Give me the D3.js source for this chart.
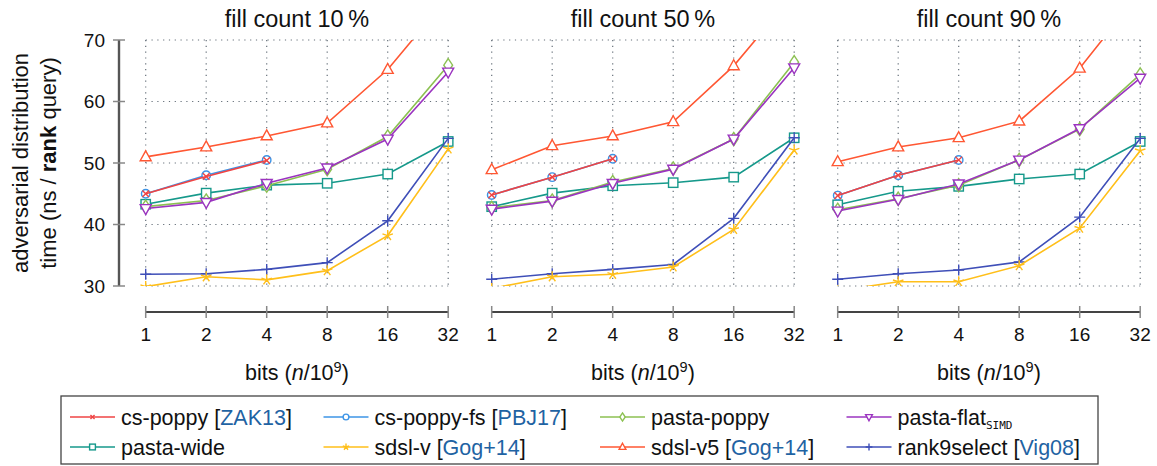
<!DOCTYPE html>
<html>
<head>
<meta charset="utf-8">
<script src="https://cdn.jsdelivr.net/npm/d3@7"></script>
<style>
  body { margin: 0; background: #fff; }
  svg { font-family: "Liberation Sans", Arial, sans-serif; }
</style>
</head>
<body>
<div id="chart"></div>
<script>
// bits (n / 10^9)
const bits = [1, 2, 4, 8, 16, 32];
const panelTitles = ["fill count 10\u2009%", "fill count 50\u2009%", "fill count 90\u2009%"];
const yTicks = [30, 40, 50, 60, 70];

// one row per panel (10 %, 50 %, 90 %)
const csPoppy = [[45.0, 47.8, 50.4], [44.8, 47.7, 50.7], [44.7, 48.0, 50.5]];
const csPoppyFs = [[45.0, 48.0, 50.5], [44.8, 47.7, 50.7], [44.7, 48.0, 50.5]];
const pastaPoppy = [
  [42.9, 43.9, 46.3, 49.0, 54.3, 65.9],
  [42.7, 43.9, 46.9, 49.1, 53.9, 66.4],
  [42.4, 44.2, 46.4, 50.5, 55.5, 64.4]
];
const pastaFlat = [
  [42.6, 43.6, 46.7, 49.2, 53.9, 64.8],
  [42.5, 43.8, 46.7, 49.0, 53.9, 65.5],
  [42.2, 44.1, 46.6, 50.5, 55.6, 63.8]
];
const pastaWide = [
  [43.3, 45.1, 46.4, 46.7, 48.2, 53.5],
  [42.9, 45.1, 46.3, 46.8, 47.7, 54.1],
  [43.2, 45.4, 46.2, 47.4, 48.2, 53.5]
];
const sdslV = [
  [29.9, 31.5, 31.0, 32.5, 38.2, 52.3],
  [29.6, 31.5, 31.9, 33.1, 39.2, 52.1],
  [29.2, 30.7, 30.7, 33.3, 39.4, 52.0]
];
const sdslV5 = [
  [51.0, 52.6, 54.4, 56.5, 65.2, 77.0],
  [48.9, 52.8, 54.4, 56.7, 65.8, 77.5],
  [50.2, 52.6, 54.1, 56.8, 65.4, 77.8]
];
const rank9 = [
  [31.9, 32.0, 32.7, 33.8, 40.6, 54.0],
  [31.1, 32.0, 32.7, 33.5, 41.0, 54.1],
  [31.1, 32.0, 32.6, 33.9, 41.2, 54.0]
];

const series = [
  { key: "pasta-wide", data: pastaWide, color: "#16998b", mark: "square" },
  { key: "rank9select", cite: "Vig08", data: rank9, color: "#3f4fb8", mark: "plus" },
  { key: "sdsl-v", cite: "Gog+14", data: sdslV, color: "#ffbf1a", mark: "star" },
  { key: "pasta-poppy", data: pastaPoppy, color: "#8cc152", mark: "diamond" },
  { key: "pasta-flat", sub: "SIMD", data: pastaFlat, color: "#9b34c0", mark: "tridown" },
  { key: "cs-poppy-fs", cite: "PBJ17", data: csPoppyFs, color: "#3d94e6", mark: "circle" },
  { key: "cs-poppy", cite: "ZAK13", data: csPoppy, color: "#ef4444", mark: "cross" },
  { key: "sdsl-v5", cite: "Gog+14", data: sdslV5, color: "#ff5733", mark: "triangle" }
];
const legendOrder = ["cs-poppy", "cs-poppy-fs", "pasta-poppy", "pasta-flat",
                     "pasta-wide", "sdsl-v", "sdsl-v5", "rank9select"];

const width = 1157, height = 466;
const plotTop = 40, plotBottom = 286, plotW = 302.5;
const panelLeft = [145.7, 491.7, 837.7];
const xAxisY = 312;

const svg = d3.select("#chart").append("svg")
  .attr("width", width).attr("height", height);

svg.append("defs").append("clipPath").attr("id", "plotclip")
  .append("rect").attr("x", -30).attr("y", 0)
  .attr("width", plotW + 60).attr("height", plotBottom - plotTop);

const x = d3.scaleLog().base(2).domain([1, 32]).range([0, plotW]);
const y = d3.scaleLinear().domain([30, 70]).range([plotBottom - plotTop, 0]);

// marker drawing
function drawMark(g, type, color, s) {
  const sw = 1.4;
  if (type === "circle") {
    g.append("circle").attr("r", s * 0.85).attr("fill", "#fff").attr("stroke", color).attr("stroke-width", sw);
  } else if (type === "square") {
    g.append("rect").attr("x", -s * 0.85).attr("y", -s * 0.85).attr("width", s * 1.7).attr("height", s * 1.7)
      .attr("fill", "#fff").attr("stroke", color).attr("stroke-width", sw);
  } else if (type === "diamond") {
    g.append("path").attr("d", `M0,${-s * 1.2}L${s * 0.8},0L0,${s * 1.2}L${-s * 0.8},0Z`)
      .attr("fill", "#fff").attr("stroke", color).attr("stroke-width", sw);
  } else if (type === "triangle") {
    g.append("path").attr("d", `M0,${-s * 1.1}L${s},${s * 0.7}L${-s},${s * 0.7}Z`)
      .attr("fill", "#fff").attr("stroke", color).attr("stroke-width", sw);
  } else if (type === "tridown") {
    g.append("path").attr("d", `M0,${s * 1.1}L${s},${-s * 0.7}L${-s},${-s * 0.7}Z`)
      .attr("fill", "#fff").attr("stroke", color).attr("stroke-width", sw);
  } else if (type === "plus") {
    g.append("path").attr("d", `M${-s},0H${s}M0,${-s}V${s}`)
      .attr("stroke", color).attr("stroke-width", sw);
  } else if (type === "cross") {
    const c = s * 0.6;
    g.append("path").attr("d", `M${-c},${-c}L${c},${c}M${-c},${c}L${c},${-c}`)
      .attr("stroke", color).attr("stroke-width", sw);
  } else if (type === "star") {
    let d = "";
    for (let i = 0; i < 5; i++) {
      const a = -Math.PI / 2 + i * 2 * Math.PI / 5;
      d += `M0,0L${s * Math.cos(a)},${s * Math.sin(a)}`;
    }
    g.append("path").attr("d", d).attr("stroke", color).attr("stroke-width", sw).attr("fill", "none");
  }
}

panelTitles.forEach((title, p) => {
  const g = svg.append("g").attr("transform", `translate(${panelLeft[p]},${plotTop})`);

  // title
  svg.append("text").attr("x", panelLeft[p] + plotW / 2).attr("y", 27)
    .attr("text-anchor", "middle").style("font-size", "23.5px").attr("fill", "#111")
    .text(title);

  // dotted grid
  g.selectAll(".vg").data(bits).enter().append("line")
    .attr("x1", d => x(d)).attr("x2", d => x(d)).attr("y1", 0).attr("y2", y(30))
    .attr("stroke", "#66707a").attr("stroke-width", 1.2).attr("stroke-dasharray", "1.2,4.6");
  g.selectAll(".hg").data(yTicks).enter().append("line")
    .attr("x1", 0).attr("x2", plotW).attr("y1", d => y(d)).attr("y2", d => y(d))
    .attr("stroke", "#66707a").attr("stroke-width", 1.2).attr("stroke-dasharray", "1.2,4.6");

  // x axis (detached)
  const xa = svg.append("g").attr("transform", `translate(${panelLeft[p]},${xAxisY})`);
  xa.append("line").attr("x1", 0).attr("x2", plotW).attr("stroke", "#444").attr("stroke-width", 2);
  xa.selectAll(".xt").data(bits).enter().append("line")
    .attr("x1", d => x(d)).attr("x2", d => x(d)).attr("y1", -6).attr("y2", 6)
    .attr("stroke", "#888").attr("stroke-width", 1.5);
  xa.selectAll(".xl").data(bits).enter().append("text")
    .attr("x", d => x(d)).attr("y", 29).attr("text-anchor", "middle")
    .style("font-size", "19px").attr("fill", "#111").text(d => d);

  const lab = svg.append("text").attr("x", panelLeft[p] + plotW / 2).attr("y", 380)
    .attr("text-anchor", "middle").style("font-size", "21.5px").attr("fill", "#111");
  lab.append("tspan").text("bits (");
  lab.append("tspan").style("font-style", "italic").text("n");
  lab.append("tspan").text("/10");
  lab.append("tspan").attr("dy", -8).style("font-size", "14.5px").text("9");
  lab.append("tspan").attr("dy", 8).text(")");

  // series
  const plot = g.append("g").attr("clip-path", "url(#plotclip)");
  const line = d3.line().x((d, i) => x(bits[i])).y(d => y(d));
  series.forEach(s => {
    const vals = s.data[p];
    plot.append("path").attr("d", line(vals)).attr("fill", "none")
      .attr("stroke", s.color).attr("stroke-width", 1.6);
    vals.forEach((v, i) => {
      const m = plot.append("g").attr("transform", `translate(${x(bits[i])},${y(v)})`);
      drawMark(m, s.mark, s.color, s.mark === "circle" ? 5 : 5.5);
    });
  });
});

// y axis (first panel only)
const ya = svg.append("g").attr("transform", `translate(119,${plotTop})`);
ya.append("line").attr("y1", 0).attr("y2", y(30)).attr("stroke", "#555").attr("stroke-width", 2.4);
ya.selectAll(".yt").data(yTicks).enter().append("line")
  .attr("x1", -6).attr("x2", 6).attr("y1", d => y(d)).attr("y2", d => y(d))
  .attr("stroke", "#888").attr("stroke-width", 1.5);
ya.selectAll(".yl").data(yTicks).enter().append("text")
  .attr("x", -14).attr("y", d => y(d)).attr("dy", "0.36em").attr("text-anchor", "end")
  .style("font-size", "19px").attr("fill", "#111").text(d => d);

const yl = svg.append("g").attr("transform", `translate(0,${(plotTop + plotBottom) / 2}) rotate(-90)`);
yl.append("text").attr("x", 0).attr("y", 28).attr("text-anchor", "middle")
  .style("font-size", "22px").attr("fill", "#111").text("adversarial distribution");
const yl2 = yl.append("text").attr("x", 0).attr("y", 56).attr("text-anchor", "middle")
  .style("font-size", "22px").attr("fill", "#111");
yl2.append("tspan").text("time (ns / ");
yl2.append("tspan").style("font-weight", "bold").text("rank");
yl2.append("tspan").text(" query)");

// legend
svg.append("rect").attr("x", 61).attr("y", 396).attr("width", 1037).attr("height", 68)
  .attr("fill", "#fff").attr("stroke", "#444").attr("stroke-width", 1.3);
const colX = [70, 323.5, 600, 846.5];
const rowY = [417, 447];
legendOrder.forEach((k, i) => {
  const s = series.find(d => d.key === k);
  const lx = colX[i % 4], ly = rowY[Math.floor(i / 4)];
  const lg = svg.append("g").attr("transform", `translate(${lx},${ly})`);
  lg.append("line").attr("x1", 0).attr("x2", 45).attr("stroke", s.color).attr("stroke-width", 1.4);
  const m = lg.append("g").attr("transform", "translate(22.5,0)");
  drawMark(m, s.mark, s.color, 3.4);
  const t = lg.append("text").attr("x", 51).attr("y", 7.5).style("font-size", "21.5px").attr("fill", "#111");
  t.append("tspan").text(s.key);
  if (s.sub) {
    t.append("tspan").attr("dy", 4).style("font-size", "11px")
      .style("font-family", "'DejaVu Sans Mono', monospace").text(s.sub);
  }
  if (s.cite) {
    t.append("tspan").text(" [");
    t.append("tspan").attr("fill", "#1f63a3").text(s.cite);
    t.append("tspan").text("]");
  }
});
</script>
</body>
</html>
